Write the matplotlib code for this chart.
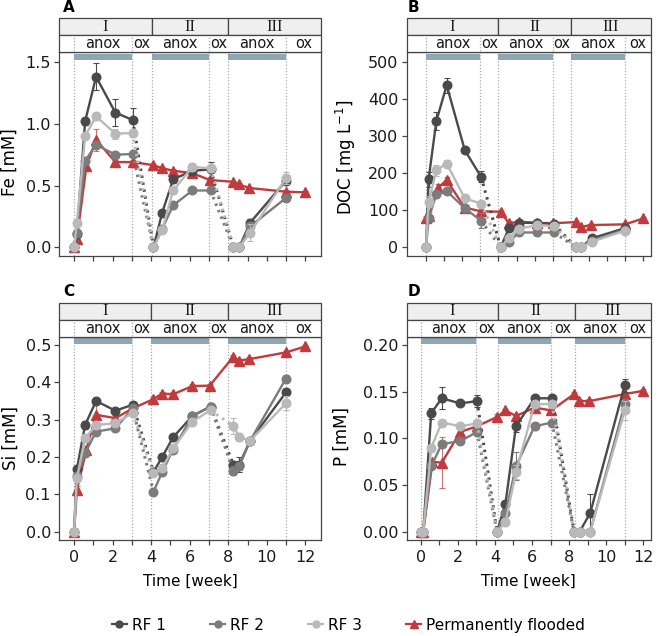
import matplotlib
matplotlib.use('Agg')
import matplotlib.pyplot as plt
from matplotlib.patches import Rectangle
from matplotlib.lines import Line2D

# ---------------- data ----------------
t_I = [0, 0.14, 0.57, 1.14, 2.14, 3.04]
t_II = [4.12, 4.57, 5.14, 6.14, 7.08]
t_III = [8.27, 8.57, 9.14, 11.0]
t_pf = [0, 0.14, 0.64, 1.14, 2.14, 3.04, 4.12, 4.57, 5.14, 6.14, 7.04, 8.27, 8.54, 9.1, 11.0, 12.0]

series_names = ["RF 1", "RF 2", "RF 3", "Permanently flooded"]

# Fe [mM]
fe_rf1 = [0, 0.11, 1.02, 1.38, 1.09, 1.03, 0, 0.28, 0.55, 0.62, 0.63, 0, 0, 0.20, 0.54]
fe_rf2 = [0, 0.12, 0.70, 0.83, 0.75, 0.755, 0, 0.15, 0.34, 0.46, 0.46, 0, 0, 0.17, 0.40]
fe_rf3 = [0, 0.20, 0.90, 1.06, 0.92, 0.925, 0, 0.14, 0.46, 0.65, 0.64, 0, 0, 0.12, 0.56]
fe_pf = [0, 0.07, 0.66, 0.87, 0.69, 0.69, 0.665, 0.64, 0.62, 0.60, 0.545, 0.53, 0.51, 0.48, 0.45, 0.445]
fe_rf1_err = [0, 0.02, 0.03, 0.11, 0.11, 0.10, 0, 0.02, 0.03, 0.03, 0.06, 0, 0, 0.03, 0.03]
fe_rf2_err = [0, 0.01, 0.02, 0.02, 0.02, 0.02, 0, 0.01, 0.02, 0.02, 0.02, 0, 0, 0.02, 0.02]
fe_rf3_err = [0, 0.02, 0.02, 0.03, 0.04, 0.03, 0, 0.02, 0.03, 0.03, 0.03, 0, 0, 0.07, 0.05]
fe_pf_err = [0, 0.03, 0.03, 0.09, 0.02, 0.02, 0.01, 0.01, 0.01, 0.02, 0.02, 0.01, 0.01, 0.01, 0.01, 0.01]

# DOC [mg L-1]
doc_rf1 = [0, 184, 341, 437, 262, 190, 0, 51, 66, 66, 62, 0, 0, 24, 52]
doc_rf2 = [0, 78, 143, 152, 105, 72, 0, 15, 40, 40, 40, 0, 0, 18, 48]
doc_rf3 = [0, 123, 208, 226, 132, 118, 0, 25, 50, 60, 57, 0, 0, 15, 45]
doc_pf = [80, 84, 160, 181, 107, 97, 96, 65, 69, 66, 65, 68, 55, 60, 62, 78]
doc_rf1_err = [0, 20, 25, 20, 5, 15, 0, 5, 5, 5, 5, 0, 0, 5, 5]
doc_rf2_err = [0, 10, 10, 8, 5, 20, 0, 3, 3, 3, 3, 0, 0, 3, 3]
doc_rf3_err = [0, 15, 15, 10, 5, 8, 0, 3, 3, 3, 3, 0, 0, 3, 3]
doc_pf_err = [5, 10, 10, 10, 5, 5, 5, 5, 5, 3, 3, 3, 3, 3, 3, 3]

# Si [mM]
si_rf1 = [0, 0.167, 0.286, 0.35, 0.324, 0.34, 0.16, 0.20, 0.253, 0.31, 0.335, 0.179, 0.18, 0.244, 0.373]
si_rf2 = [0, 0.15, 0.21, 0.268, 0.277, 0.33, 0.107, 0.16, 0.22, 0.31, 0.335, 0.163, 0.175, 0.244, 0.41]
si_rf3 = [0, 0.143, 0.25, 0.286, 0.29, 0.318, 0.156, 0.17, 0.223, 0.295, 0.325, 0.283, 0.253, 0.244, 0.344]
si_pf = [0, 0.112, 0.22, 0.313, 0.304, 0.33, 0.355, 0.37, 0.368, 0.39, 0.391, 0.469, 0.458, 0.462, 0.48, 0.496]
si_rf1_err = [0, 0.01, 0.01, 0.005, 0.005, 0.005, 0.005, 0.005, 0.005, 0.005, 0.005, 0.01, 0.02, 0.005, 0.01]
si_rf2_err = [0, 0.01, 0.01, 0.005, 0.005, 0.005, 0.005, 0.005, 0.005, 0.005, 0.005, 0.01, 0.01, 0.005, 0.01]
si_rf3_err = [0, 0.01, 0.01, 0.005, 0.005, 0.005, 0.005, 0.005, 0.005, 0.005, 0.005, 0.022, 0.01, 0.005, 0.018]
si_pf_err = [0, 0.01, 0.01, 0.03, 0.01, 0.005, 0.005, 0.005, 0.005, 0.005, 0.005, 0.005, 0.005, 0.005, 0.005, 0.005]

# P [mM]
p_rf1 = [0, 0, 0.127, 0.143, 0.1375, 0.14, 0, 0.03, 0.113, 0.143, 0.143, 0, 0, 0.02, 0.157]
p_rf2 = [0, 0, 0.07, 0.094, 0.097, 0.107, 0, 0.02, 0.07, 0.113, 0.117, 0, 0, 0, 0.137]
p_rf3 = [0, 0, 0.09, 0.117, 0.113, 0.116, 0, 0.01, 0.064, 0.1365, 0.137, 0, 0, 0, 0.13]
p_pf = [0, 0, 0.075, 0.074, 0.107, 0.113, 0.123, 0.130, 0.124, 0.133, 0.130, 0.1475, 0.140, 0.140, 0.1475, 0.151]
p_rf1_err = [0, 0, 0.006, 0.012, 0.002, 0.006, 0, 0.003, 0.006, 0.002, 0.002, 0, 0, 0.02, 0.007]
p_rf2_err = [0, 0, 0.003, 0.003, 0.002, 0.003, 0, 0.002, 0.015, 0.002, 0.002, 0, 0, 0, 0.005]
p_rf3_err = [0, 0, 0.003, 0.003, 0.002, 0.003, 0, 0.002, 0.008, 0.002, 0.002, 0, 0, 0, 0.01]
p_pf_err = [0, 0, 0.003, 0.027, 0.003, 0.003, 0.003, 0.002, 0.002, 0.002, 0.002, 0.002, 0.002, 0.002, 0.002, 0.002]

period_labels = ["I", "II", "III"]
phase_labels = ["anox", "ox"]

# ---------------- style ----------------
W, H = 661, 636
C_RF = ['#4a4a4a', '#7c7c7c', '#b9b9b9']
C_PF = '#c03a3e'
C_BAR = '#8fa7b3'
C_EDGE = '#444444'
FONT = 'DejaVu Sans'
plt.rcParams['font.family'] = [FONT]

fig = plt.figure(figsize=(W / 100, H / 100), dpi=100)


def rect(l, t, r, b):
    return [l / W, 1 - b / H, (r - l) / W, (b - t) / H]


def draw_panel(main_px, strip_px, xlim, bounds, rf, rf_err, pf, pf_err,
               ylim, yticks, yticklabels, ylabel, ylab_pos, show_x, letter, letter_px):
    ax = fig.add_axes(rect(*main_px))
    sax = fig.add_axes(rect(*strip_px))
    b1, b2 = bounds
    t_rf = t_I + t_II + t_III
    n1, n2 = len(t_I), len(t_I) + len(t_II)

    # vertical dotted guide lines
    for xv in [0, 3, b1, 7, b2, 11]:
        ax.axvline(xv, color='#a8a8a8', lw=0.9, ls=(0, (1, 1.5)), zorder=0.5)
    # anoxic bars
    for x0, x1 in [(0, 3), (b1, 7), (b2, 11)]:
        ax.add_patch(Rectangle((x0, 0.962), x1 - x0, 0.03, transform=ax.get_xaxis_transform(),
                               facecolor=C_BAR, edgecolor='none', zorder=1, clip_on=False))

    # permanently flooded
    ax.plot(t_pf, pf, '-', color=C_PF, lw=1.7, marker='^', ms=6.5, zorder=3)
    tt = [t for t, e in zip(t_pf, pf_err) if e > 0]
    vv = [v for v, e in zip(pf, pf_err) if e > 0]
    ee = [e for e in pf_err if e > 0]
    ax.errorbar(tt, vv, yerr=ee, fmt='none', ecolor=C_PF, elinewidth=0.8, capsize=2.5,
                capthick=0.8, alpha=0.7, zorder=2.5)

    # RF series
    for k in range(3):
        vals = rf[k]
        errs = rf_err[k]
        c = C_RF[k]
        segs = [(0, n1), (n1, n2), (n2, len(t_rf))]
        for a, b in segs:
            ax.plot(t_rf[a:b], vals[a:b], '-', color=c, lw=1.7, marker='o', ms=6.2, zorder=4 + k)
        for a in [n1, n2]:
            ax.plot([t_rf[a - 1], t_rf[a]], [vals[a - 1], vals[a]], color=c, lw=2.2,
                    ls=(0, (0.8, 1.5)), zorder=3.5 + k)
        tt = [t for t, e in zip(t_rf, errs) if e > 0]
        vv = [v for v, e in zip(vals, errs) if e > 0]
        ee = [e for e in errs if e > 0]
        ax.errorbar(tt, vv, yerr=ee, fmt='none', ecolor=c, elinewidth=0.8, capsize=2.5,
                    capthick=0.8, zorder=3.8 + k)

    ax.set_xlim(*xlim)
    ax.set_ylim(*ylim)
    ax.set_yticks(yticks)
    ax.set_yticklabels(yticklabels)
    ax.set_xticks(list(range(0, 13)))
    if show_x:
        ax.set_xticklabels([str(i) if i % 2 == 0 else '' for i in range(0, 13)])
        ax.set_xlabel('Time [week]', fontsize=11, labelpad=6)
    else:
        ax.set_xticklabels([])
    ax.tick_params(direction='out', length=3.5, width=0.9, color=C_EDGE,
                   labelsize=11.5, labelcolor='#1a1a1a', pad=2.5)
    ax.tick_params(axis='x', pad=4)
    for s in ax.spines.values():
        s.set_color(C_EDGE)
        s.set_linewidth(0.9)
    ax.set_ylabel(ylabel, fontsize=12, va='center')
    ax.yaxis.set_label_coords(*ylab_pos)

    # strip
    sax.set_xlim(*xlim)
    sax.set_ylim(0, 2)
    sax.set_axis_off()
    edges = [xlim[0], b1, b2, xlim[1]]
    for i in range(3):
        sax.add_patch(Rectangle((edges[i], 1), edges[i + 1] - edges[i], 1, facecolor='#efefef',
                                edgecolor=C_EDGE, lw=0.9, clip_on=False))
        sax.text((edges[i] + edges[i + 1]) / 2, 1.5, period_labels[i], ha='center', va='center',
                 fontsize=12, family='Liberation Serif', color='#1a1a1a')
    sax.add_patch(Rectangle((xlim[0], 0), xlim[1] - xlim[0], 1, facecolor='white',
                            edgecolor=C_EDGE, lw=0.9, clip_on=False))
    for xv in [0, 3, 7, 11]:
        sax.plot([xv, xv], [0.05, 0.95], color='#a8a8a8', lw=0.9, ls=(0, (1, 1.5)))
    for (x0, x1), lab in zip([(0, 3), (3, b1), (b1, 7), (7, b2), (b2, 11), (11, xlim[1])],
                             ['anox', 'ox'] * 3):
        sax.text((x0 + x1) / 2, 0.5, lab, ha='center', va='center', fontsize=10.5, color='#1a1a1a')

    fig.text(letter_px[0] / W, 1 - letter_px[1] / H, letter, fontsize=11, fontweight='bold',
             ha='left', va='center')
    return ax


draw_panel((59.3, 52.3, 320.7, 256), (59.3, 18.3, 320.7, 52.3), (-0.77, 12.8), (4.02, 8.0),
           [fe_rf1, fe_rf2, fe_rf3], [fe_rf1_err, fe_rf2_err, fe_rf3_err], fe_pf, fe_pf_err,
           (-0.070, 1.578), [0, 0.5, 1.0, 1.5], ['0.0', '0.5', '1.0', '1.5'], 'Fe [mM]',
           (-0.19, 0.46), False, 'A', (63, 8))

draw_panel((406.7, 52.3, 650.7, 256), (406.7, 18.3, 650.7, 52.3), (-1.07, 12.41), (4.0, 8.0),
           [doc_rf1, doc_rf2, doc_rf3], [doc_rf1_err, doc_rf2_err, doc_rf3_err], doc_pf, doc_pf_err,
           (-23.4, 526), [0, 100, 200, 300, 400, 500], ['0', '100', '200', '300', '400', '500'],
           'DOC [mg L$^{-1}$]', (-0.25, 0.485), False, 'B', (408, 8))

draw_panel((59.3, 336.7, 320.7, 540), (59.3, 302.7, 320.7, 336.7), (-0.77, 12.8), (4.0, 8.0),
           [si_rf1, si_rf2, si_rf3], [si_rf1_err, si_rf2_err, si_rf3_err], si_pf, si_pf_err,
           (-0.022, 0.522), [0, 0.1, 0.2, 0.3, 0.4, 0.5], ['0.0', '0.1', '0.2', '0.3', '0.4', '0.5'],
           'Si [mM]', (-0.185, 0.5), True, 'C', (63, 292))

draw_panel((406.7, 336.7, 650.7, 540), (406.7, 302.7, 650.7, 336.7), (-0.75, 12.4), (4.17, 8.3),
           [p_rf1, p_rf2, p_rf3], [p_rf1_err, p_rf2_err, p_rf3_err], p_pf, p_pf_err,
           (-0.0089, 0.209), [0, 0.05, 0.10, 0.15, 0.20], ['0.00', '0.05', '0.10', '0.15', '0.20'],
           'P [mM]', (-0.265, 0.51), True, 'D', (408, 292))

handles = [Line2D([], [], color=C_RF[0], marker='o', ms=5, lw=1.6),
           Line2D([], [], color=C_RF[1], marker='o', ms=5, lw=1.6),
           Line2D([], [], color=C_RF[2], marker='o', ms=5, lw=1.6),
           Line2D([], [], color=C_PF, marker='^', ms=5.5, lw=1.6)]
fig.legend(handles, series_names, loc='center', bbox_to_anchor=(0.527, 0.017), ncol=4,
           frameon=False, fontsize=11, handlelength=1.0, handletextpad=0.3, columnspacing=2.9)

fig.savefig('out.png', dpi=100)
